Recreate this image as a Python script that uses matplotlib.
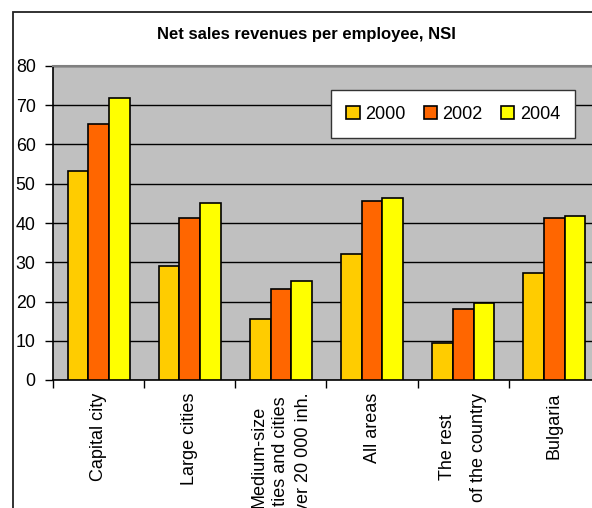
import numpy as np
import matplotlib.pyplot as plt
from matplotlib.patches import Rectangle

plt.rcParams['font.family'] = ['Liberation Sans', 'DejaVu Sans']

categories = ['Capital city', 'Large cities',
              'Medium-size\ncities and cities\nover 20 000 inh.',
              'All areas', 'The rest\nof the country', 'Bulgaria']
years = ['2000', '2002', '2004']
v2000 = [53.2, 29.0, 15.5, 32.0, 9.3, 27.3]
v2002 = [65.1, 41.4, 23.1, 45.6, 18.0, 41.4]
v2004 = [71.9, 45.2, 25.2, 46.4, 19.6, 41.9]
colors = ['#FFCC00', '#FF6600', '#FFFF00']

fig = plt.figure(figsize=(5.92, 5.08), dpi=100)

# outer chart frame (runs off the right and bottom edge)
fig.patches.append(Rectangle((13 / 592, -0.1), 1.0, 1 - 12 / 508 + 0.1,
                             transform=fig.transFigure, fill=False,
                             edgecolor='#222222', lw=1.3))

ax = fig.add_axes([53 / 592, 128 / 508, 547 / 592, 314 / 508])
ax.set_facecolor('#C0C0C0')

x = np.arange(len(categories))
w = 0.227
for i, (vals, c, yr) in enumerate(zip([v2000, v2002, v2004], colors, years)):
    ax.bar(x + (i - 1) * w, vals, w, color=c, edgecolor='black', lw=1.2,
           label=yr, zorder=3)

ax.set_xlim(-0.5, len(categories) - 0.5)
ax.set_ylim(0, 80)
ax.set_yticks(np.arange(0, 81, 10))
ax.yaxis.grid(True, color='black', lw=1.0, zorder=1)
ax.tick_params(axis='y', direction='out', length=6, width=1, pad=6.5,
               labelsize=12.8)

bounds = np.arange(-0.5, len(categories))
ax.set_xticks(bounds, labels=[''] * len(bounds))
ax.set_xticks(x, labels=categories, minor=True)
ax.tick_params(axis='x', which='major', direction='out', length=6, width=1)
ax.tick_params(axis='x', which='minor', length=0, pad=9, labelsize=13)
for lab in ax.get_xticklabels(minor=True):
    lab.set_rotation(90)
    lab.set_va('top')
    lab.set_ha('center')
    lab.set_multialignment('center')
    lab.set_linespacing(1.4)
ax.get_xticklabels(minor=True)[4].set_linespacing(2.1)

for s in ['left', 'bottom']:
    ax.spines[s].set_color('black')
    ax.spines[s].set_linewidth(1.2)
ax.spines['top'].set_color('#808080')
ax.spines['top'].set_linewidth(1.5)
ax.spines['right'].set_visible(False)

leg = ax.legend(loc='upper right', bbox_to_anchor=(0.955, 0.922), ncol=3,
                fontsize=13, frameon=True, fancybox=False, framealpha=1,
                edgecolor='#333333', handlelength=0.75, handleheight=0.75,
                handletextpad=0.3, columnspacing=1.0, borderpad=0.85,
                borderaxespad=0)
leg.get_frame().set_linewidth(1.0)
leg.set_zorder(5)

fig.text(306 / 592, 1 - 34 / 508, 'Net sales revenues per employee, NSI',
         ha='center', va='center', fontsize=12, fontweight='bold')

fig.savefig('out.png', dpi=100)
